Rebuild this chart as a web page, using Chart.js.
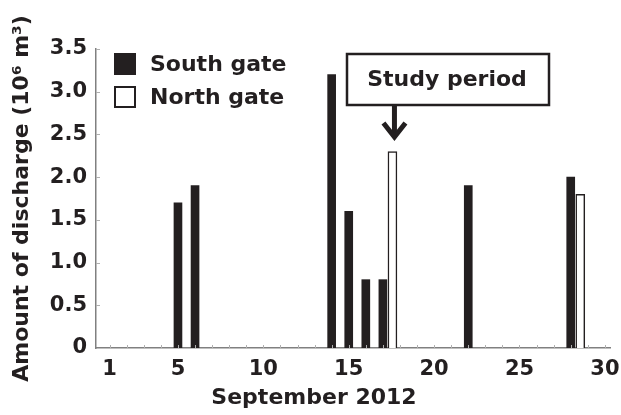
<!DOCTYPE html>
<html>
<head>
<meta charset="utf-8">
<script src="https://cdn.jsdelivr.net/npm/chart.js@4"></script>
<style>
  body { margin: 0; background: #fff; }
  #wrap { width: 621px; height: 415px; }
</style>
</head>
<body>
<div id="wrap"><canvas id="discharge-chart"></canvas></div>
<script>
// daily discharge, September 2012 (10^6 m3)
const southDays = [5, 6, 14, 15, 16, 17, 22, 28];
const southValues = [1.7, 1.9, 3.2, 1.6, 0.8, 0.8, 1.9, 2.0];
const northDays = [17, 28];
const northValues = [2.3, 1.8];
const xTickDays = [1, 5, 10, 15, 20, 25, 30];

const ink = "#231f20";
const axisGray = "#808080";
const bold = size => ({ family: "'DejaVu Sans', sans-serif", weight: "bold", size: size });

// north gate bars sit just right of the south gate bar for the same day
const northShift = 0.56;

const southData = southDays.map((d, i) => ({ x: d, y: southValues[i] }));
const northData = northDays.map((d, i) => ({ x: d + northShift, y: northValues[i] }));

// legend, minor ticks, study-period callout and x title
const extras = {
  id: "extras",
  afterDraw(chart) {
    const ctx = chart.ctx;
    const x = chart.scales.x;
    const y = chart.scales.y;
    const area = chart.chartArea;
    ctx.save();

    // small inward ticks
    ctx.strokeStyle = "#b0b0b0";
    ctx.lineWidth = 1;
    ctx.beginPath();
    for (let v = 0.5; v <= 3.5; v += 0.5) {
      const py = Math.round(y.getPixelForValue(v)) + 0.5;
      ctx.moveTo(area.left, py);
      ctx.lineTo(area.left + 4, py);
    }
    for (let d = 1; d <= 30; d++) {
      const px = Math.round(x.getPixelForValue(d)) + 0.5;
      ctx.moveTo(px, area.bottom);
      ctx.lineTo(px, area.bottom - 3);
    }
    ctx.stroke();

    // legend
    ctx.fillStyle = ink;
    ctx.fillRect(114, 53, 22, 22);
    ctx.fillStyle = "#fff";
    ctx.fillRect(114, 86, 22, 22);
    ctx.strokeStyle = ink;
    ctx.lineWidth = 2;
    ctx.strokeRect(115, 87, 20, 20);
    ctx.fillStyle = ink;
    ctx.font = "bold 22px 'DejaVu Sans', sans-serif";
    ctx.textBaseline = "middle";
    ctx.textAlign = "left";
    ctx.fillText(chart.data.datasets[0].label, 150, 65);
    ctx.fillText(chart.data.datasets[1].label, 150, 98);

    // study period box and arrow
    ctx.lineWidth = 2.5;
    ctx.strokeRect(347, 54, 202, 51);
    ctx.textAlign = "center";
    ctx.fillText("Study period", 447, 80);
    const ax = x.getPixelForValue(northDays[0] + northShift) + 2;
    ctx.lineWidth = 5;
    ctx.beginPath();
    ctx.moveTo(ax, 106);
    ctx.lineTo(ax, 136);
    ctx.stroke();
    ctx.lineJoin = "miter";
    ctx.beginPath();
    ctx.moveTo(ax - 11, 123);
    ctx.lineTo(ax, 137);
    ctx.lineTo(ax + 11, 123);
    ctx.stroke();

    // x axis title
    ctx.fillText("September 2012", 314, 398);
    ctx.restore();
  }
};

const config = {
  type: "bar",
  data: {
    datasets: [
      {
        label: "South gate",
        data: southData,
        backgroundColor: ink,
        borderWidth: 0,
        barThickness: 8
      },
      {
        label: "North gate",
        data: northData,
        backgroundColor: "#fff",
        borderColor: ink,
        borderWidth: 1.5,
        barThickness: 9
      }
    ]
  },
  options: {
    responsive: true,
    maintainAspectRatio: false,
    animation: false,
    grouped: false,
    layout: { padding: { top: 49, right: 11, left: 0, bottom: 0 } },
    plugins: {
      legend: { display: false },
      tooltip: { enabled: false }
    },
    scales: {
      x: {
        type: "linear",
        offset: false,
        min: 0.2,
        max: 30.3,
        afterBuildTicks: s => { s.ticks = xTickDays.map(v => ({ value: v })); },
        afterFit: s => {
          s.height = 67;
          // let the "30" label hang past the plot edge
          s.paddingLeft = 0;
          s.paddingRight = 0;
        },
        grid: { display: false, drawTicks: false, offset: false },
        border: { color: axisGray, width: 1.5 },
        ticks: { font: bold(21), color: ink, padding: 9, maxRotation: 0, autoSkip: false }
      },
      y: {
        min: 0,
        max: 3.5,
        afterFit: s => { s.width = 96; },
        grid: { display: false, drawTicks: false },
        border: { color: axisGray, width: 1.5 },
        ticks: {
          stepSize: 0.5,
          font: bold(21),
          color: ink,
          padding: 9,
          callback: v => (v === 0 ? "0" : v.toFixed(1))
        },
        title: {
          display: true,
          text: "Amount of discharge (10\u2076 m\u00b3)",
          font: bold(22),
          color: ink,
          padding: { top: 9, bottom: 0 }
        }
      }
    }
  },
  plugins: [extras]
};

const dischargeChart = new Chart(document.getElementById("discharge-chart"), config);
</script>
</body>
</html>
